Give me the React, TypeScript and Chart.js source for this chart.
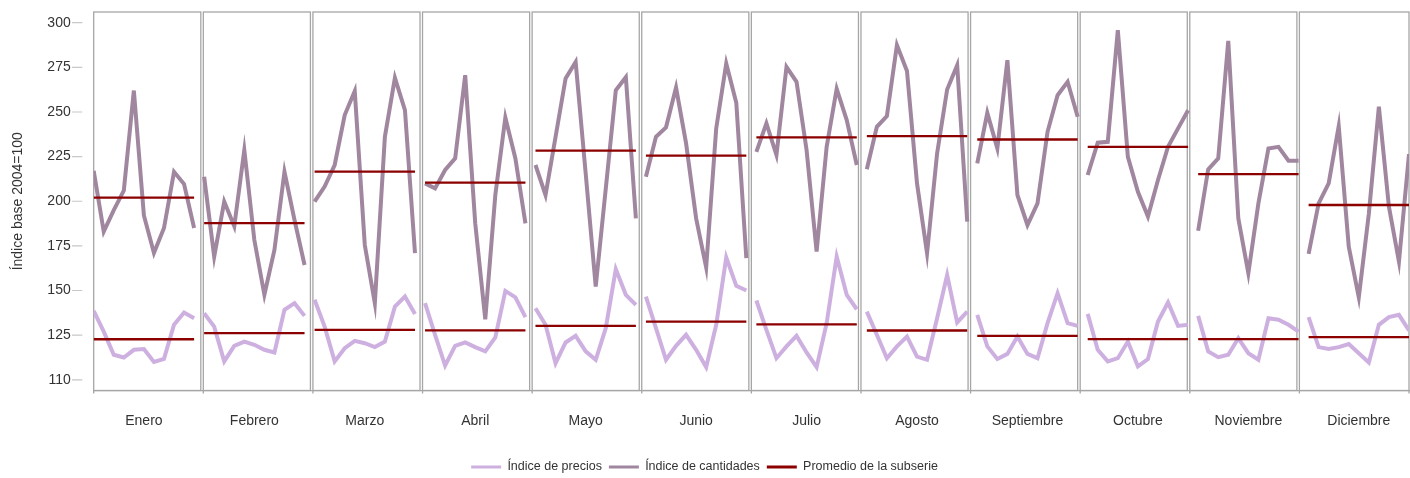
import React, { useEffect, useRef } from "react";
import { Chart, registerables } from "chart.js";

Chart.register(...registerables);

const meses = ["Enero", "Febrero", "Marzo", "Abril", "Mayo", "Junio", "Julio", "Agosto", "Septiembre", "Octubre", "Noviembre", "Diciembre"];

// Índice de precios, 11 años por mes
const indicePrecios: number[][] = [
  [138.6, 127, 114, 112.5, 116.8, 117.2, 110, 111.7, 130.8, 137.7, 134.5],
  [137.3, 129.8, 110.3, 119, 121.4, 119.6, 116.8, 115.3, 139.2, 142.9, 135.8],
  [144.8, 129.8, 110.3, 117.7, 121.8, 120.5, 118.3, 121.4, 141, 146.6, 136.9],
  [142.9, 125.2, 108, 119, 120.9, 118.3, 115.9, 123.7, 149.8, 146.2, 135.1],
  [140.1, 130.8, 109.3, 120.9, 124.6, 115.9, 111.2, 128.9, 162, 147.6, 142],
  [146.6, 128.9, 111.2, 119, 125.2, 116.8, 107.1, 130.8, 168.5, 152.6, 150],
  [144.4, 128, 112.1, 118.7, 124.6, 115.3, 107.1, 131.7, 169, 147.6, 139.5],
  [138.2, 125.2, 112.1, 118.7, 124.2, 113, 111.2, 134.5, 158.7, 132.1, 138.2],
  [136.4, 118.7, 111.6, 114.5, 124.2, 114.5, 112.1, 131.7, 148.5, 131.7, 130.2],
  [136.9, 116.8, 110.3, 112.1, 121.4, 107.5, 111.6, 132.6, 143.3, 130.2, 130.8],
  [135.8, 115.9, 112.7, 114, 123.3, 114.9, 111.2, 134.5, 133.6, 130.8, 127],
  [135.1, 118.3, 117.2, 118.3, 120, 114.9, 109.7, 130.8, 135.1, 136.4, 127.6],
];

// Índice de cantidades, 11 años por mes
const indiceCantidades: number[][] = [
  [217, 183, 195, 206, 262, 192, 171, 185, 216.5, 209.6, 185],
  [213.7, 169, 199.8, 186, 228.7, 178.3, 147.6, 172.7, 216.5, 189.5, 164.3],
  [199.8, 208.2, 220.3, 248.3, 261.7, 175.5, 142.9, 236.1, 269.1, 251, 170.9],
  [210, 207.2, 217.5, 224, 270.6, 187.6, 133.9, 203.5, 246.9, 224, 187.6],
  [220.3, 203.5, 236.1, 268.8, 278, 215.6, 152.2, 207, 262.2, 269.5, 190.4],
  [213.7, 236.1, 241.4, 263.7, 232.4, 190.4, 163, 240.8, 277.2, 255.1, 168.1],
  [227.7, 243.6, 225.9, 275.3, 266.9, 228.7, 171.8, 230.5, 263, 245.5, 220.3],
  [217.9, 241.7, 247.7, 287.5, 273, 210, 170.9, 226.8, 262.6, 276.2, 188.6],
  [221.2, 249.5, 229.6, 279, 203.5, 186.7, 198.8, 238.9, 259.4, 266.9, 247.3],
  [214.7, 232.8, 233.3, 295.8, 224.9, 205.3, 191.4, 211.9, 230.5, 240.8, 251],
  [183.5, 217.9, 224, 289.8, 190.4, 159.7, 198.8, 229.6, 230.5, 222.7, 222.7],
  [170.5, 198.8, 210, 242.1, 174.6, 146.2, 193, 252.9, 197, 166.2, 226.4],
];

// Promedio de cada subserie
const promedioCantidades = [202, 187.7, 216.6, 210.4, 228.3, 225.5, 235.8, 236.5, 234.6, 230.5, 215.2, 197.9];
const promedioPrecios = [122.7, 126.1, 128, 127.7, 130.2, 132.6, 131, 127.6, 124.6, 122.8, 122.8, 123.9];

const yTickValues = [100, 125, 150, 175, 200, 225, 250, 275, 300];
const yTickLabels = ["110", "125", "150", "175", "200", "225", "250", "275", "300"];
const tituloEjeY = "Índice base 2004=100";
const nombresSeries = ["Índice de precios", "Índice de cantidades", "Promedio de la subserie"];

const COLOR_PRECIOS = "#cdb0e0";
const COLOR_CANTIDADES = "#a0879f";
const COLOR_PROMEDIO = "#8c0000";
const COLOR_MARCO = "#a6a6a6";
const COLOR_TEXTO = "#333333";
const FONT = "'Liberation Sans', Arial, sans-serif";

const PUNTOS = indicePrecios[0].length;
const N = meses.length;
const XMAX = N * PUNTOS - 1;

function serie(values: number[][]) {
  const out: { x: number; y: number | null }[] = [];
  values.forEach((row, p) => {
    row.forEach((v, i) => out.push({ x: p * PUNTOS + i, y: v }));
    out.push({ x: p * PUNTOS + PUNTOS - 0.5, y: null });
  });
  return out;
}

function promedios() {
  const out: { x: number; y: number | null }[] = [];
  for (let p = 0; p < N; p++) {
    out.push({ x: p * PUNTOS, y: promedioCantidades[p] });
    out.push({ x: p * PUNTOS + PUNTOS - 1, y: promedioCantidades[p] });
    out.push({ x: p * PUNTOS + PUNTOS - 0.5, y: null });
    out.push({ x: p * PUNTOS, y: promedioPrecios[p] });
    out.push({ x: p * PUNTOS + PUNTOS - 1, y: promedioPrecios[p] });
    out.push({ x: p * PUNTOS + PUNTOS - 0.5, y: null });
  }
  return out;
}

const panelFrames = {
  id: "panelFrames",
  beforeDatasetsDraw(chart: any) {
    const { ctx, chartArea: a, scales } = chart;
    const x = scales.x;
    const y = scales.y;
    ctx.save();
    ctx.strokeStyle = COLOR_MARCO;
    ctx.lineWidth = 1.3;
    for (let p = 0; p < N; p++) {
      const l = x.getPixelForValue((p * XMAX) / N);
      const r = p < N - 1 ? x.getPixelForValue(((p + 1) * XMAX) / N) - 2.5 : a.right;
      ctx.strokeRect(l, a.top, r - l, a.bottom - a.top);
    }
    ctx.beginPath();
    for (let p = 0; p <= N; p++) {
      const xx = p < N ? x.getPixelForValue((p * XMAX) / N) : a.right;
      ctx.moveTo(xx, a.bottom);
      ctx.lineTo(xx, a.bottom + 3);
    }
    ctx.stroke();
    ctx.strokeStyle = "#c8c8c8";
    ctx.lineWidth = 1.2;
    ctx.beginPath();
    y.ticks.forEach((t: any) => {
      const yy = y.getPixelForValue(t.value);
      ctx.moveTo(a.left - 21.7, yy);
      ctx.lineTo(a.left - 11.4, yy);
    });
    ctx.stroke();
    ctx.restore();
  },
};

export default function App() {
  const ref = useRef<HTMLCanvasElement>(null);
  useEffect(() => {
    document.body.style.margin = "0";
    const chart = new Chart(ref.current as HTMLCanvasElement, {
      type: "line",
      data: {
        datasets: [
          {
            label: nombresSeries[0],
            data: serie(indicePrecios),
            borderColor: COLOR_PRECIOS,
            backgroundColor: COLOR_PRECIOS,
            borderWidth: 4,
            pointRadius: 0,
            tension: 0,
            borderJoinStyle: "miter",
            spanGaps: false,
            order: 2,
          },
          {
            label: nombresSeries[1],
            data: serie(indiceCantidades),
            borderColor: COLOR_CANTIDADES,
            backgroundColor: COLOR_CANTIDADES,
            borderWidth: 4,
            pointRadius: 0,
            tension: 0,
            borderJoinStyle: "miter",
            spanGaps: false,
            order: 1,
          },
          {
            label: nombresSeries[2],
            data: promedios(),
            borderColor: COLOR_PROMEDIO,
            backgroundColor: COLOR_PROMEDIO,
            borderWidth: 2.3,
            pointRadius: 0,
            tension: 0,
            spanGaps: false,
            order: 0,
          },
        ],
      },
      options: {
        responsive: false,
        animation: false,
        events: [],
        layout: { padding: { top: 12, right: 1, bottom: -5.25, left: 0 } },
        scales: {
          x: {
            type: "linear",
            min: 0,
            max: XMAX,
            afterBuildTicks: (scale: any) => {
              scale.ticks = meses.map((_, p) => ({ value: p * PUNTOS + (PUNTOS - 1) / 2 }));
            },
            afterFit: (scale: any) => {
              scale.height = 63.25;
              scale.paddingLeft = 0;
              scale.paddingRight = 0;
            },
            grid: { display: false, drawTicks: false },
            border: { display: true, color: COLOR_MARCO, width: 1.3 },
            ticks: {
              autoSkip: false,
              maxRotation: 0,
              padding: 22,
              color: COLOR_TEXTO,
              font: { family: FONT, size: 14 },
              callback: (v: any) => meses[Math.round((Number(v) - (PUNTOS - 1) / 2) / PUNTOS)],
            },
          },
          y: {
            type: "linear",
            min: 94,
            max: 306,
            afterBuildTicks: (scale: any) => {
              scale.ticks = yTickValues.map((v) => ({ value: v }));
            },
            afterFit: (scale: any) => {
              scale.width = 93.7;
              scale.paddingTop = 0;
              scale.paddingBottom = 0;
            },
            grid: { display: false, drawTicks: false },
            border: { display: false },
            ticks: {
              padding: 23,
              color: COLOR_TEXTO,
              font: { family: FONT, size: 14 },
              callback: (v: any) => yTickLabels[yTickValues.indexOf(Number(v))],
            },
            title: {
              display: true,
              text: tituloEjeY,
              color: COLOR_TEXTO,
              font: { family: FONT, size: 14 },
              padding: { top: 9.6, bottom: 0 },
            },
          },
        },
        plugins: {
          tooltip: { enabled: false },
          legend: {
            position: "bottom",
            labels: {
              boxWidth: 30,
              boxHeight: 3,
              padding: 7,
              color: COLOR_TEXTO,
              font: { family: FONT, size: 12.5 },
              sort: (a: any, b: any) => a.datasetIndex - b.datasetIndex,
              generateLabels: (c: any) =>
                (Chart.defaults.plugins.legend.labels as any)
                  .generateLabels(c)
                  .map((l: any) => ({ ...l, lineWidth: 0 })),
            },
          },
        },
      } as any,
      plugins: [panelFrames],
    });
    return () => chart.destroy();
  }, []);
  return <canvas ref={ref} width={1410} height={478} style={{ display: "block" }} />;
}
